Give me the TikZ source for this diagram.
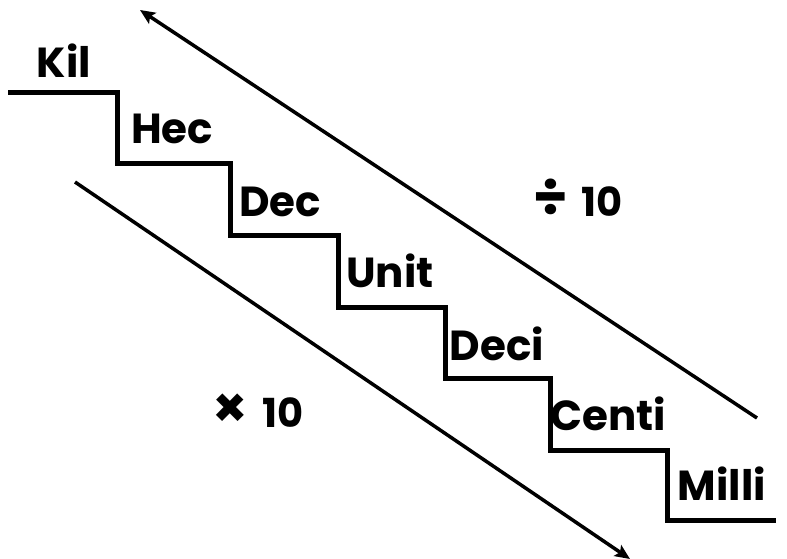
\documentclass[tikz,border=0pt]{standalone}
\usepackage{fontspec}
\setmainfont{Poppins}[BoldFont={Poppins Bold}]
\usetikzlibrary{arrows.meta}
\newcommand{\bigop}[1]{{\fontsize{56}{60}\selectfont #1}}
\begin{document}
\begin{tikzpicture}[x=1pt,y=-1pt,
  lbl/.style={font=\fontsize{42}{46}\selectfont\bfseries, inner sep=0pt, anchor=base},
  opl/.style={font=\fontsize{40}{44}\selectfont\bfseries, inner sep=0pt},
  stair/.style={line width=5pt, line join=miter},
  arr/.style={line width=3.5pt, -{Stealth[length=15pt,width=13pt,inset=3pt]}}]
\useasboundingbox (0,0) rectangle (787,558);
\draw[stair] (8,92) -- (117,92) -- (117,163) -- (230,163) -- (230,235) -- (338,235) -- (338,307) -- (445,307) -- (445,378) -- (550,378) -- (550,450) -- (667,450) -- (667,520) -- (776,520);
\node[lbl] (kil) at (64,77) {Kil};
\node[lbl] (hec) at (172,143) {Hec};
\node[lbl] (dec) at (280,216) {Dec};
\node[lbl] (unit) at (390,287) {Unit};
\node[lbl] (deci) at (497,360) {Deci};
\node[lbl] (centi) at (608,430) {Centi};
\node[lbl] (milli) at (722,500) {Milli};
\node[opl] (div) at (578,198) {\bigop{÷}\hspace{14pt}10};
\node[opl] (mul) at (258,411) {\bigop{×}\hspace{14pt}10};
\coordinate (a1s) at (757,418);
\coordinate (a1e) at (140,10);
\coordinate (a2s) at (75,182);
\coordinate (a2e) at (630,559);
\draw[arr] (a1s) -- (a1e);
\draw[arr] (a2s) -- (a2e);
\end{tikzpicture}
\end{document}
